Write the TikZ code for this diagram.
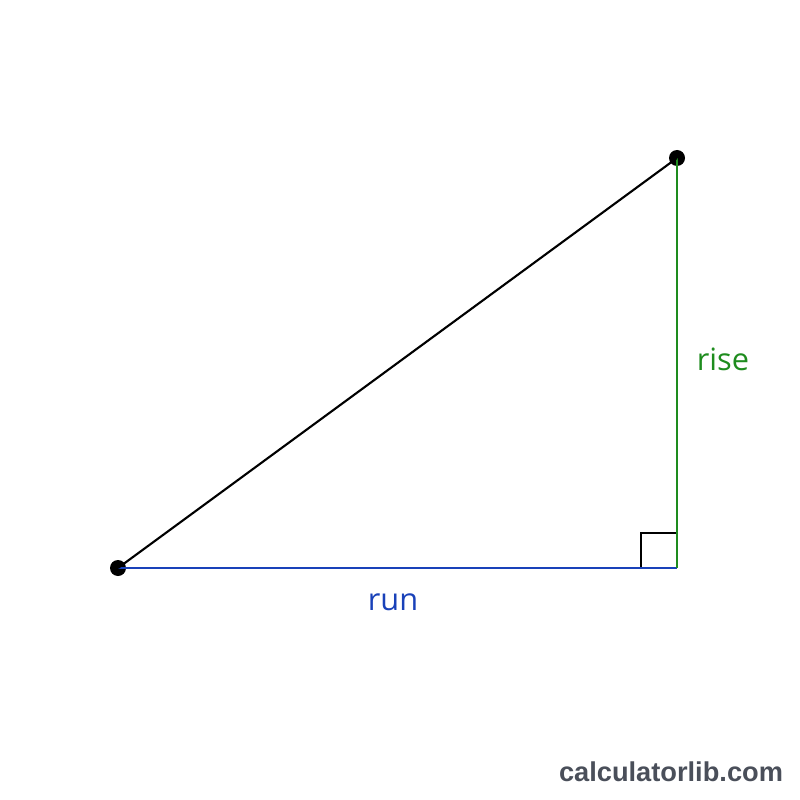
\documentclass[tikz,border=0pt]{standalone}
\usepackage{fontspec}
\setmainfont{Open Sans}
\newfontfamily\markfont{Liberation Sans}
\definecolor{risegreen}{RGB}{30,140,30}
\definecolor{runblue}{RGB}{25,65,185}
\definecolor{markgrey}{RGB}{74,79,90}
\begin{document}
\begin{tikzpicture}[x=0.02cm,y=-0.02cm,
  dot/.style={circle,fill=black,inner sep=0pt,minimum size=0.32cm},
  leg/.style={line width=1.2pt},
  lab/.style={font=\fontsize{17.5}{20}\selectfont},
  sitemark/.style={font=\markfont\bfseries\fontsize{15.5}{18}\selectfont,text=markgrey}]
    \useasboundingbox (0,0) rectangle (800,800);
    % Corners
    \coordinate (corner) at (677,568);
    \node[dot] (start) at (118,568) {};
    \node[dot] (end) at (677,158) {};
    % Right angle
    \draw[line width=0.8pt] ([shift={(-36,0)}]corner) |- ([shift={(0,-35)}]corner);
    % Sides
    \draw[leg,runblue] (start.center) -- (corner);
    \draw[leg,risegreen] (corner) -- (end.center);
    \draw[leg,black] (start.center) -- (end.center);
    % Labels
    \node[lab,text=runblue] (run) at (393,602) {run};
    \node[lab,text=risegreen] (rise) at (723,359) {rise};
    \node[sitemark] (site) at (671,772) {calculatorlib.com};
\end{tikzpicture}
\end{document}
